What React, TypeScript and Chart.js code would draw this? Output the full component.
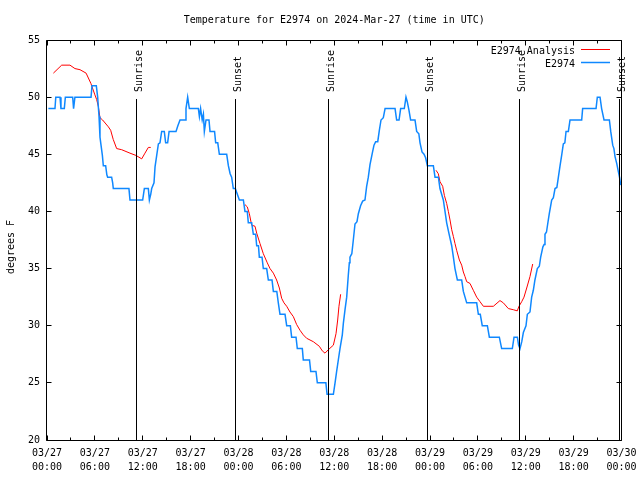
import React, { useEffect, useRef } from 'react';
import { Chart, registerables } from 'chart.js';

Chart.register(...registerables);

const TITLE = 'Temperature for E2974 on 2024-Mar-27 (time in UTC)';
const Y_TITLE = 'degrees F';
const SERIES_NAMES = ['E2974 Analysis', 'E2974'];
const SERIES_COLORS = ['#ff0000', '#0f88ff'];

// hours since 03/27 00:00 UTC
const X_MIN = 0;
const X_MAX = 72;
const Y_MIN = 20;
const Y_MAX = 55;
const xTickLabels = [
  ['03/27', '00:00'], ['03/27', '06:00'], ['03/27', '12:00'], ['03/27', '18:00'],
  ['03/28', '00:00'], ['03/28', '06:00'], ['03/28', '12:00'], ['03/28', '18:00'],
  ['03/29', '00:00'], ['03/29', '06:00'], ['03/29', '12:00'], ['03/29', '18:00'],
  ['03/30', '00:00'],
];

const sunHours = [11.19, 23.65, 35.22, 47.66, 59.16, 71.73];
const sunLabels = ['Sunrise', 'Sunset', 'Sunrise', 'Sunset', 'Sunrise', 'Sunset'];

// E2974 observations
const blueHours = [
  0.17, 1.0, 1.1, 1.63, 1.75, 2.17, 2.3, 3.22, 3.33, 3.5, 5.52, 5.64, 6.18, 6.35, 6.52, 6.64, 6.77, 6.94, 7.06, 7.35,
  7.5, 7.6, 8.1, 8.23, 8.31, 10.27, 10.4, 11.99, 12.2, 12.7, 12.83, 13.0, 13.12, 13.41, 13.54, 13.75, 13.96, 14.16, 14.37, 14.7,
  14.87, 15.12, 15.3, 16.17, 16.4, 16.67, 17.3, 17.42, 17.63, 17.84, 18.97, 19.1, 19.25, 19.45, 19.6, 19.72, 19.93, 20.3, 20.43, 21.0,
  21.14, 21.4, 21.6, 22.52, 22.73, 22.95, 23.14, 23.35, 23.6, 24.11, 24.61, 24.81, 25.1, 25.23, 25.65, 25.86, 26.15, 26.28, 26.5, 26.61,
  26.95, 27.11, 27.53, 27.74, 28.2, 28.37, 28.8, 28.99, 29.2, 29.83, 30.04, 30.5, 30.66, 31.21, 31.37, 32.0, 32.12, 32.9, 33.05, 33.71,
  33.88, 34.95, 35.1, 35.89, 36.1, 36.3, 36.51, 36.72, 37.01, 37.14, 37.35, 37.56, 37.77, 37.89, 37.97, 38.2, 38.39, 38.6, 38.85, 39.02,
  39.3, 39.56, 39.85, 40.06, 40.27, 40.48, 40.77, 40.98, 41.19, 41.45, 41.65, 41.86, 42.15, 42.37, 43.62, 43.82, 44.12, 44.32, 44.78, 44.99,
  45.15, 45.35, 45.57, 46.12, 46.33, 46.6, 46.75, 47.0, 47.25, 47.45, 47.67, 48.42, 48.63, 49.05, 49.25, 49.67, 49.88, 50.09, 50.4, 50.72,
  50.93, 51.13, 51.43, 51.97, 52.18, 52.6, 53.85, 54.06, 54.3, 54.55, 55.19, 55.44, 56.69, 56.98, 58.32, 58.53, 58.95, 59.1, 59.28, 59.5,
  59.7, 60.03, 60.2, 60.53, 60.74, 60.95, 61.15, 61.45, 61.7, 61.87, 62.15, 62.3, 62.41, 62.6, 62.75, 62.95, 63.25, 63.46, 63.67, 63.9,
  64.09, 64.3, 64.5, 64.71, 64.9, 65.05, 65.34, 65.55, 67.01, 67.13, 68.81, 68.97, 69.31, 69.51, 69.81, 70.48, 70.65, 70.9, 71.05, 71.19,
  71.4, 71.6, 71.75, 71.9,
];
const blueTemps = [
  49, 49, 50, 50, 49, 49, 50, 50, 49, 50, 50, 51, 51, 50, 48.3, 46.5, 45.8, 44.9, 44, 44,
  43.2, 43, 43, 42.5, 42, 42, 41, 41, 42, 42, 41, 41.5, 42, 42.5, 43.9, 44.9, 45.9, 46, 47, 47,
  46, 46, 47, 47, 47.5, 48, 48, 49, 50, 49, 49, 48.3, 49, 48, 48.5, 47, 48, 48, 47, 47,
  46, 46, 45, 45, 44, 43.3, 43, 42, 42, 41, 41, 40, 40, 39, 39, 38, 38, 37, 37, 36,
  36, 35, 35, 34, 34, 33, 33, 32, 31, 31, 30, 30, 29, 29, 28, 28, 27, 27, 26, 26,
  25, 25, 24, 24, 25, 26, 27, 28, 29.2, 30.2, 31.4, 32.5, 34.5, 35.5, 36, 36.3, 37.5, 38.9, 39.1, 39.8,
  40.5, 40.9, 41, 42.2, 43, 44.1, 45.1, 45.8, 46.1, 46.1, 47.1, 48, 48.2, 49, 49, 48, 48, 49, 49, 50,
  49.6, 48.9, 48, 48, 47, 46.8, 46, 45.2, 45, 44.7, 44, 44, 43, 43, 42, 41, 40, 39, 38, 37,
  36, 35, 34, 34, 33, 32, 32, 31, 31, 30, 30, 29, 29, 28, 28, 29, 29, 28.3, 28, 28.6,
  29.4, 30, 31, 31.2, 32.5, 33.1, 34, 35, 35.2, 36, 36.9, 37.1, 38, 38.2, 38.9, 39.8, 41, 41.2, 42, 42.1,
  43, 44, 44.9, 45.9, 46, 47, 47, 48, 48, 49, 49, 50, 50, 49, 48, 48, 47, 45.8, 45.5, 44.8,
  44.2, 43.5, 43, 42.3,
];

// E2974 Analysis (null = gap between analysis runs)
const redHours = [
  0.8, 1.84, 2.88, 3.5, 4.14, 4.9, 5.5, 6.0, 6.22, 6.43, 6.64, 6.97, 7.69, 7.98, 8.3, 8.73, 9.36, 10.4, 11.15, 11.87,
  12.28, 12.7, 13.0, 18.0,
  24.81, 25.1, 25.36, 25.65, 26.07, 26.28, 26.69, 27.11, 27.61, 27.95, 28.37, 28.78, 29.12, 29.41, 29.7, 30.04, 30.45, 30.87, 31.29, 31.71,
  32.12, 32.54, 33.38, 34.13, 34.5, 34.84, 35.26, 35.89, 36.22, 36.43, 36.59, 36.8, 42.0,
  48.75, 49.04, 49.25, 49.59, 49.8, 50.09, 50.3, 50.51, 50.72, 50.93, 51.13, 51.34, 51.68, 51.97, 52.18, 52.39, 52.6, 53.01, 53.43, 53.85,
  54.27, 54.69, 55.94, 56.77, 57.19, 57.82, 58.44, 58.94, 59.15, 59.49, 59.78, 60.12, 60.53, 60.87,
];
const redTemps = [
  52.1, 52.8, 52.8, 52.5, 52.4, 52.1, 51.2, 50.2, 49.8, 49.2, 48.2, 48.0, 47.4, 47.1, 46.3, 45.5, 45.4, 45.1, 44.9, 44.6,
  45.1, 45.6, 45.6, null,
  40.6, 40.4, 39.8, 38.8, 38.7, 38.1, 37.2, 36.3, 35.5, 35.0, 34.6, 34.0, 33.3, 32.4, 32.0, 31.7, 31.2, 30.8, 30.1, 29.6,
  29.2, 28.9, 28.6, 28.2, 27.8, 27.6, 27.9, 28.3, 29.3, 30.5, 31.7, 32.75, null,
  43.6, 43.3, 42.6, 42.2, 41.4, 40.7, 40.0, 39.25, 38.4, 37.8, 37.2, 36.6, 35.75, 35.3, 34.7, 34.3, 33.85, 33.7, 33.1, 32.5,
  32.1, 31.7, 31.7, 32.2, 32.0, 31.5, 31.4, 31.3, 31.7, 32.1, 32.5, 33.3, 34.3, 35.4,
];

const FAMILY = '"DejaVu Sans Mono", monospace';
const FONT = '10px ' + FAMILY;

const decorPlugin = {
  id: 'gnuplotDecor',
  beforeDraw(chart: any) {
    const { ctx, width, height } = chart;
    ctx.save();
    ctx.fillStyle = '#ffffff';
    ctx.fillRect(0, 0, width, height);
    ctx.restore();
  },
  afterDatasetsDraw(chart: any) {
    const { ctx, chartArea: a, scales } = chart;
    const xs = scales.x;
    const ys = scales.y;
    const L = Math.floor(a.left) - 0.5;
    const R = Math.floor(a.right) + 0.5;
    const T = Math.floor(a.top) + 0.5;
    const B = Math.floor(a.bottom) + 0.5;
    ctx.save();
    ctx.strokeStyle = '#000';
    ctx.fillStyle = '#000';
    ctx.lineWidth = 1;

    // sunrise / sunset markers
    ctx.font = FONT;
    sunHours.forEach((h, i) => {
      const px = Math.floor(xs.getPixelForValue(h)) + 0.5;
      ctx.beginPath();
      ctx.moveTo(px, a.top + 59);
      ctx.lineTo(px, B);
      ctx.stroke();
      ctx.save();
      ctx.translate(px + 5, a.top + 52);
      ctx.rotate(-Math.PI / 2);
      ctx.textAlign = 'left';
      ctx.textBaseline = 'alphabetic';
      ctx.fillText(sunLabels[i], 0, 0);
      ctx.restore();
    });

    // border
    ctx.beginPath();
    ctx.rect(L, T, R - L, B - T);
    ctx.stroke();

    // inward ticks, mirrored
    ctx.beginPath();
    for (let h = X_MIN; h <= X_MAX; h += 3) {
      const px = Math.floor(xs.getPixelForValue(h)) + 0.5;
      const len = h % 6 === 0 ? 5 : 3;
      ctx.moveTo(px, B);
      ctx.lineTo(px, B - len);
      ctx.moveTo(px, T);
      ctx.lineTo(px, T + len);
    }
    for (let v = Y_MIN; v <= Y_MAX; v += 5) {
      const py = Math.floor(ys.getPixelForValue(v)) + 0.5;
      ctx.moveTo(L, py);
      ctx.lineTo(L + 5, py);
      ctx.moveTo(R, py);
      ctx.lineTo(R - 5, py);
    }
    ctx.stroke();

    // title
    ctx.font = FONT;
    ctx.textAlign = 'center';
    ctx.textBaseline = 'alphabetic';
    ctx.fillText(TITLE, (a.left + a.right) / 2, 23);

    // y axis title
    ctx.save();
    ctx.translate(13.5, 247);
    ctx.rotate(-Math.PI / 2);
    ctx.textAlign = 'center';
    ctx.fillText(Y_TITLE, 0, 0);
    ctx.restore();

    // legend
    const rowsY = [49.5, 62.5];
    SERIES_NAMES.forEach((name, i) => {
      ctx.fillStyle = '#000';
      ctx.textAlign = 'right';
      ctx.textBaseline = 'alphabetic';
      ctx.fillText(name, 575, rowsY[i] + 4);
      ctx.strokeStyle = SERIES_COLORS[i];
      ctx.lineWidth = i === 0 ? 1 : 1.5;
      ctx.beginPath();
      ctx.moveTo(581, rowsY[i]);
      ctx.lineTo(610, rowsY[i]);
      ctx.stroke();
    });
    ctx.restore();
  },
};

export default function App() {
  const ref = useRef<HTMLCanvasElement | null>(null);

  useEffect(() => {
    if (!ref.current) return;
    const blueData = blueHours.map((h, i) => ({ x: h, y: blueTemps[i] }));
    const redData = redHours.map((h, i) => ({ x: h, y: redTemps[i] }));
    const chart = new Chart(ref.current, {
      type: 'line',
      data: {
        datasets: [
          {
            label: SERIES_NAMES[1],
            data: blueData,
            borderColor: SERIES_COLORS[1],
            borderWidth: 1.5,
            pointRadius: 0,
            tension: 0,
            fill: false,
            spanGaps: false,
          },
          {
            label: SERIES_NAMES[0],
            data: redData as any,
            borderColor: SERIES_COLORS[0],
            borderWidth: 1,
            pointRadius: 0,
            tension: 0,
            fill: false,
            spanGaps: false,
          },
        ],
      },
      options: {
        responsive: false,
        animation: false,
        events: [],
        layout: { padding: { top: 40, right: 18.5, bottom: 0, left: 0 } },
        plugins: {
          legend: { display: false },
          title: { display: false },
          tooltip: { enabled: false },
        },
        scales: {
          x: {
            type: 'linear',
            min: X_MIN,
            max: X_MAX,
            grid: { display: false, drawTicks: false },
            border: { display: false },
            ticks: {
              stepSize: 6,
              autoSkip: false,
              maxRotation: 0,
              minRotation: 0,
              padding: 6,
              color: '#000',
              font: { family: FAMILY, size: 10, lineHeight: 1.4 },
              callback: (v: any) => xTickLabels[Math.round(Number(v) / 6)] as any,
            },
            afterFit: (s: any) => {
              s.height = 40;
              s.paddingLeft = 0;
              s.paddingRight = 0;
            },
          },
          y: {
            type: 'linear',
            min: Y_MIN,
            max: Y_MAX,
            grid: { display: false, drawTicks: false },
            border: { display: false },
            ticks: {
              stepSize: 5,
              padding: 7,
              color: '#000',
              font: { family: FAMILY, size: 10 },
            },
            afterFit: (s: any) => {
              s.width = 47;
              s.paddingTop = 0;
              s.paddingBottom = 0;
            },
          },
        },
      },
      plugins: [decorPlugin],
    });
    return () => chart.destroy();
  }, []);

  return (
    <div style={{ position: 'fixed', left: 0, top: 0, width: 640, height: 480, background: '#fff' }}>
      <canvas ref={ref} width={640} height={480} style={{ display: 'block' }} />
    </div>
  );
}
